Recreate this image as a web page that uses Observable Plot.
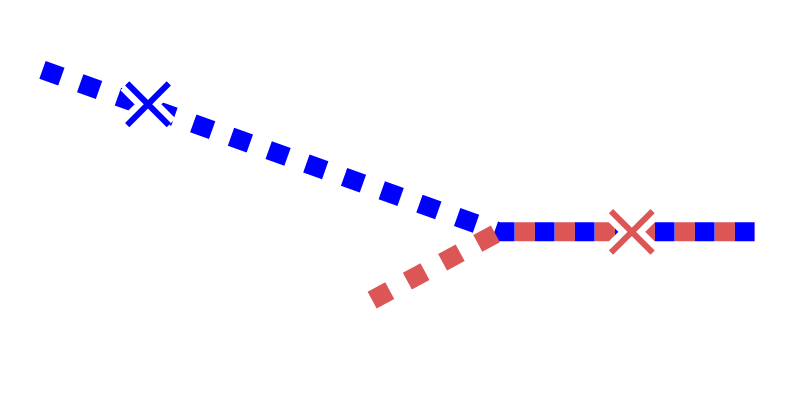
<!DOCTYPE html>
<html>
<head>
<meta charset="utf-8">
<script src="https://cdn.jsdelivr.net/npm/d3@7"></script>
<script src="https://cdn.jsdelivr.net/npm/@observablehq/plot@0.6"></script>
<style>
  html, body { margin: 0; padding: 0; background: #fff; }
</style>
</head>
<body>
<div id="chart"></div>
<script>
// Series values (data units)
const blueX = [0, 9, 14.05];
const blueY = [3.2, 0, 0];
const redX = [6.5, 9, 14.05];
const redY = [-1.35, 0, 0];
// Marker positions
const blueMarkX = [2.08];
const blueMarkY = [2.52];
const redMarkX = [11.62];
const redMarkY = [0];

const BLUE = "#0000ff";
const RED = "#dc5656";

const toRows = (xs, ys) => xs.map((x, i) => ({x, y: ys[i]}));
const blue = toRows(blueX, blueY);
const red = toRows(redX, redY);
const blueM = toRows(blueMarkX, blueMarkY);
const redM = toRows(redMarkX, redMarkY);

const lineOpts = (color) => ({
  x: "x", y: "y", stroke: color, strokeWidth: 19,
  strokeDasharray: "20,20", strokeLinecap: "butt", strokeLinejoin: "miter"
});
const halo = (data) => Plot.dot(data, {x: "x", y: "y", symbol: "times", r: 19, stroke: "white", strokeWidth: 19});
const mark = (data, color) => Plot.dot(data, {x: "x", y: "y", symbol: "times", r: 19, stroke: color, strokeWidth: 6});

const chart = Plot.plot({
  width: 800,
  height: 400,
  marginLeft: 42,
  marginRight: 48,
  marginTop: 69.4,
  marginBottom: 100.3,
  x: {domain: [0, 14], axis: null},
  y: {domain: [-1.35, 3.2], axis: null},
  marks: [
    Plot.line(blue, lineOpts(BLUE)),
    halo(blueM),
    mark(blueM, BLUE),
    Plot.line(red, lineOpts(RED)),
    halo(redM),
    mark(redM, RED)
  ]
});
document.getElementById("chart").appendChild(chart);
</script>
</body>
</html>
